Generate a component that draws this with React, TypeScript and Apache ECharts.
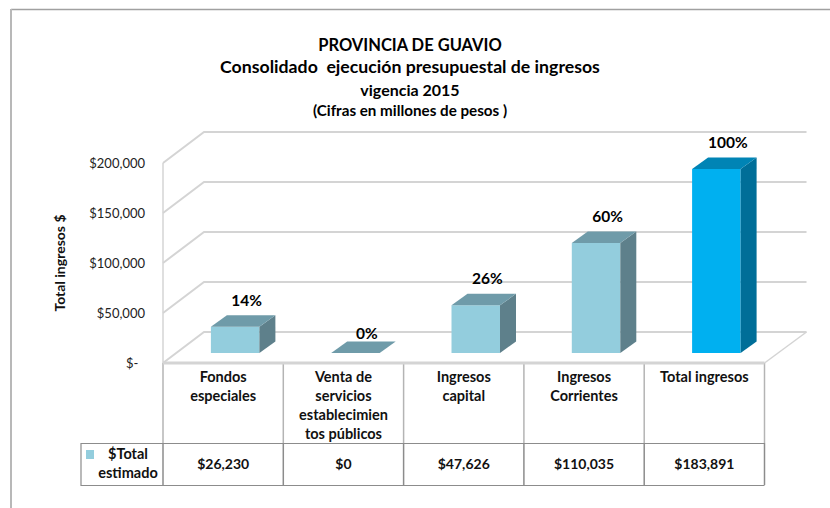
import React, { useEffect, useRef } from "react";
import * as echarts from "echarts";

const categories = [
  "Fondos\nespeciales",
  "Venta de\nservicios\nestablecimien\ntos públicos",
  "Ingresos\ncapital",
  "Ingresos\nCorrientes",
  "Total ingresos",
];
const values = [26230, 0, 47626, 110035, 183891];
const percents = ["14%", "0%", "26%", "60%", "100%"];
const valueLabels = ["$26,230", "$0", "$47,626", "$110,035", "$183,891"];
const gridTicks = [0, 50000, 100000, 150000, 200000];
const titleLines = [
  "PROVINCIA DE GUAVIO",
  "Consolidado  ejecución presupuestal de ingresos",
  "vigencia 2015",
  "(Cifras en millones de pesos )",
];
const font = "Lato";

const money = (v: number) =>
  v === 0 ? "$-  " : "$" + v.toLocaleString("en-US");

export default function App() {
  const ref = useRef<HTMLDivElement>(null);
  useEffect(() => {
    const chart = echarts.init(ref.current!, undefined, { renderer: "svg" });
    const L = 163, R = 764.5, T = 163, B = 363;
    const bandW = (R - L) / categories.length;
    const grey = "#D4D4D4";
    chart.setOption({
      animation: false,
      backgroundColor: "#fff",
      title: titleLines.map((text, i) => ({
        text,
        left: 410,
        top: [36, 57.5, 81, 102][i],
        padding: 0,
        textAlign: "center",
        textStyle: {
          fontFamily: font,
          fontWeight: "bold",
          fontSize: [16.5, 17.7, 16, 15.2][i],
          color: "#000",
        },
      })),
      grid: { left: L, right: 830 - R, top: T, bottom: 508 - B },
      xAxis: [
        {
          type: "category",
          data: categories,
          position: "bottom",
          axisLine: { show: false },
          axisTick: { show: false },
          axisLabel: {
            interval: 0,
            margin: 4,
            verticalAlign: "top",
            lineHeight: 19,
            fontFamily: font,
            fontWeight: "bold",
            fontSize: 14.5,
            color: "#111",
          },
        },
        {
          type: "category",
          data: valueLabels,
          position: "bottom",
          offset: 0,
          axisLine: { show: false },
          axisTick: { show: false },
          axisLabel: {
            interval: 0,
            margin: 100,
            verticalAlign: "middle",
            fontFamily: font,
            fontWeight: "bold",
            fontSize: 14,
            color: "#111",
          },
        },
      ],
      yAxis: {
        type: "value",
        min: 0,
        max: 200000,
        interval: 50000,
        name: "Total ingresos $",
        nameLocation: "middle",
        nameGap: 97,
        nameTextStyle: { fontFamily: font, fontWeight: "bold", fontSize: 14, color: "#111" },
        axisLine: { show: false },
        axisTick: { show: false },
        splitLine: { show: false },
        axisLabel: {
          margin: 18,
          fontFamily: font,
          fontSize: 13,
          color: "#222",
          padding: [4, 0, 0, 0],
          formatter: (v: number) => money(v),
        },
      },
      series: [
        {
          type: "custom",
          xAxisIndex: 0,
          z: 1,
          silent: true,
          data: gridTicks.map((v) => [v]),
          renderItem: (_p: any, api: any) => {
            const v = api.value(0);
            const y = api.coord([0, v])[1];
            const lineStyle = { stroke: grey, lineWidth: 2, fill: "none" };
            const children: any[] = [
              {
                type: "polyline",
                shape: { points: [[L, y], [L + 41, y - 31], [R + 42, y - 31]] },
                style: lineStyle,
              },
            ];
            if (v === 0) {
              children.push(
                { type: "line", shape: { x1: L, y1: T, x2: L, y2: y }, style: { stroke: grey, lineWidth: 1.5 } },
                { type: "line", shape: { x1: L, y1: y, x2: R, y2: y }, style: { stroke: grey, lineWidth: 3 } },
                { type: "line", shape: { x1: R, y1: y, x2: R + 42, y2: y - 31 }, style: { stroke: grey, lineWidth: 1.5 } }
              );
            }
            return { type: "group", children };
          },
          encode: { y: 0 },
        },
        {
          type: "custom",
          xAxisIndex: 0,
          z: 3,
          silent: true,
          data: values.map((v, i) => [i, v]),
          renderItem: (_p: any, api: any) => {
            const i = api.value(0);
            const p = api.coord([i, api.value(1)]);
            const cx = p[0] + 12;
            const w = 48.5, dx = 16, dy = 11.5;
            const top = p[1] - 10, base = B - 10;
            const x0 = cx - w / 2, x1 = cx + w / 2;
            const isTotal = i === categories.length - 1;
            const front = isTotal ? "#00B0F0" : "#93CDDD";
            const lid = isTotal ? "#0084B5" : "#6F9BA9";
            const side = isTotal ? "#006E98" : "#5E808B";
            const isFlat = base - top <= 0.5;
            const children: any[] = [];
            if (!isFlat) {
              children.push(
                { type: "polygon", shape: { points: [[x0, base], [x1, base], [x1, top], [x0, top]] }, style: { fill: front } },
                { type: "polygon", shape: { points: [[x1, base], [x1 + dx, base - dy], [x1 + dx, top - dy], [x1, top]] }, style: { fill: side } }
              );
            }
            children.push(
              { type: "polygon", shape: { points: [[x0, top], [x1, top], [x1 + dx, top - dy], [x0 + dx, top - dy]] }, style: { fill: lid } },
              {
                type: "text",
                x: cx + 11.5,
                y: top - (isFlat ? 20 : 27),
                style: {
                  text: percents[i],
                  fontFamily: font,
                  fontWeight: "bold",
                  fontSize: 15.5,
                  fill: "#000",
                  align: "center",
                  verticalAlign: "middle",
                },
              }
            );
            return { type: "group", children };
          },
          encode: { x: 0, y: 1 },
        },
      ],
      graphic: [
        { type: "line", shape: { x1: 11, y1: 9.5, x2: 830, y2: 9.5 }, style: { stroke: "#A0A0A0", lineWidth: 1.5 } },
        { type: "line", shape: { x1: 11, y1: 9, x2: 11, y2: 508 }, style: { stroke: "#B8B8B8", lineWidth: 2 } },
        ...[0, 1, 2, 3, 4, 5].map((k) => ({
          type: "line",
          shape: { x1: L + k * bandW, y1: B, x2: L + k * bandW, y2: 443 },
          style: { stroke: "#B4B4B4", lineWidth: 1.5 },
        })),
        ...[0, 1, 2, 3, 4, 5].map((k) => ({
          type: "line",
          shape: { x1: L + k * bandW, y1: 443, x2: L + k * bandW, y2: 485 },
          style: { stroke: "#8C8C8C", lineWidth: 1.5 },
        })),
        { type: "polyline", shape: { points: [[R, 443.5], [81, 443.5], [81, 485.5], [R, 485.5]] }, style: { stroke: "#8C8C8C", lineWidth: 1.2, fill: "none" } },
        { type: "rect", shape: { x: 86, y: 450, width: 8, height: 9 }, style: { fill: "#93CDDD" } },
        {
          type: "text",
          x: 128,
          y: 463,
          style: {
            text: "$Total\nestimado",
            fontFamily: font,
            fontWeight: "bold",
            fontSize: 14.5,
            lineHeight: 19,
            fill: "#111",
            align: "center",
            verticalAlign: "middle",
          },
        },
      ],
    });
    return () => chart.dispose();
  }, []);
  return <div ref={ref} style={{ width: 830, height: 508, position: "absolute", left: 0, top: 0 }} />;
}
